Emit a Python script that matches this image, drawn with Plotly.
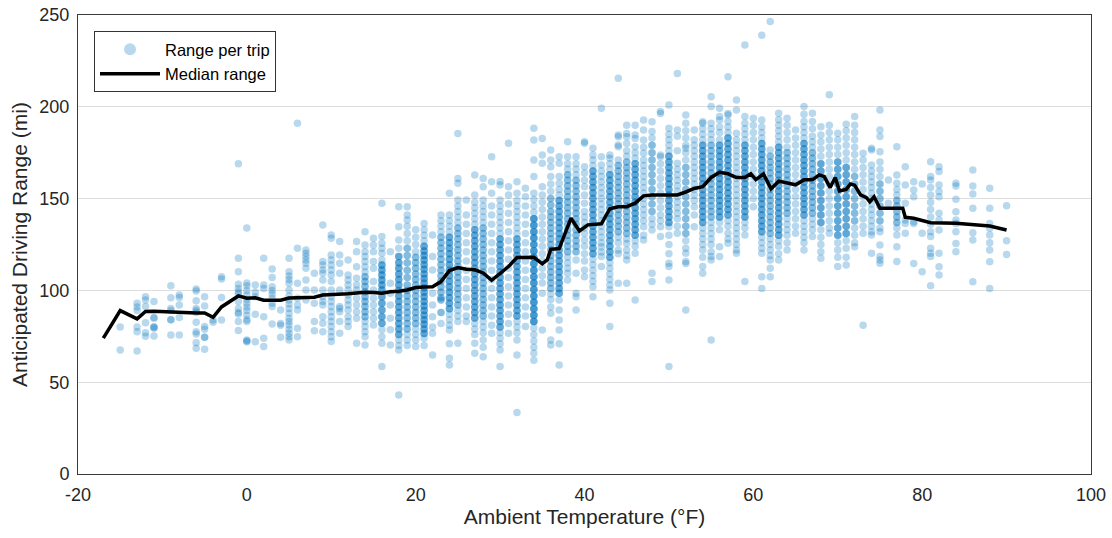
import plotly.graph_objects as go

# ---------------- data ----------------
cold_temps = [-15, -13, -12, -11, -9, -8, -6, -5, -4, -3, -1, 0, 1, 2, 3, 4]
cold_ranges = [
    [80, 67.5],
    [93, 91, 89, 80, 77.5, 67],
    [96.5, 94.8, 91.2, 82.4, 77, 75],
    [94, 85.3, 84.8, 80, 80, 79.4, 75.2],
    [102.6, 96, 90.2, 89, 84, 84, 75.7],
    [97.5, 96.2, 92.1, 85.3, 75.7],
    [100.8, 99.7, 94.3, 90.2, 89, 87.9, 82.6, 77.5, 76.3, 71.5, 68.5],
    [96.6, 91.5, 80.3, 78.8, 74.5, 74.5, 67.9],
    [83.9, 82.6],
    [107.5, 106.2, 96.2, 83.9],
    [169, 117.5, 110.2, 103.3, 101, 99.3, 98, 93.9, 90.2, 88, 87.2, 83, 78.1],
    [134, 104, 102.5, 100, 97.5, 95, 93, 91, 89, 86.5, 84, 83, 73, 72.5, 72],
    [103, 99, 96.5, 87, 72],
    [117.5, 103, 101, 85.7, 74, 69.5],
    [111.7, 107, 102, 100, 98, 95.7, 93, 91.2, 81.7],
    [89.3, 82, 81, 74.5],
]

mild_temps = [5, 6, 7, 8, 9, 10, 11, 12, 13, 14, 15, 16, 17, 18, 19]
mild_ranges = [
    [117.5, 110.2, 107.9, 106, 103.9, 100.2, 97, 94.8, 92.6, 90.2, 87.5, 84.8, 83, 81.2, 78.8, 76.6, 74.8, 73],
    [191, 123, 103.9, 95.7, 92.1, 89.3, 79.4, 74.8],
    [122, 120.2, 118.4, 116.6, 114.8, 112, 105.7, 100.2, 94.8],
    [109.3, 100.2, 93, 83, 78],
    [135.6, 115.7, 113.9, 111.1, 109.3, 105.7, 100.2, 96.6, 93.9, 92.1, 85.7, 82.1, 77.5],
    [130.2, 128.4, 119.3, 116.6, 113.9, 111.1, 108.4, 104.8, 100.2, 96.6, 93.9, 91.2, 88.4, 85.7, 83, 80.3, 77.5, 74.8, 72.1],
    [126.6, 119.3, 114.8, 109.3, 100.2, 91.2, 90.2, 88.4, 83, 76.6],
    [116.6, 108.4, 105.7, 103, 100.2, 97.5, 94.8, 92.1, 89.3, 85.7, 83, 80.3],
    [126.6, 121.1, 112.9, 106.6, 103, 100.2, 95.7, 92.1, 88.4, 84.8, 71.2],
    [132, 124.7, 121.1, 118.4, 115.7, 112.9, 110.2, 107.5, 104.8, 102.1, 99.3, 96.6, 93.9, 91.2, 88.4, 85.7, 83, 80.3, 77.5, 74.8, 70.3],
    [128.4, 124.7, 121.1, 115.7, 112, 104.8, 100.2, 95.7, 92.1, 88.4, 84.8, 81.2],
    [147.4, 129.3, 125.7, 122.9, 120.2, 116.6, 113.9, 111.1, 108.4, 105.7, 103, 100.2, 96.6, 93, 89.3, 85.7, 82.1, 78.5, 74.8, 71.2, 58.5],
    [121.1, 103.9, 98.4, 92.1, 84.8, 78.5, 70.3],
    [145.6, 134.7, 127.5, 123, 118.4, 115, 112, 109, 106, 103, 100, 97, 94, 91, 88, 85, 82, 79, 76, 73, 70, 67.5, 43],
    [145.6, 141, 138.4, 135, 131, 127, 123, 119, 115, 111, 107, 103, 100, 97, 94, 91, 88, 85, 82, 79, 76, 73, 70],
]

transition_temps = [20, 21, 22, 23, 24, 25, 26, 27, 28, 29, 30, 31, 32, 33, 34, 35, 36, 37, 38, 39]
transition_ranges = [
    [133, 129, 125, 121, 118, 115, 112, 109, 106, 103, 100, 97, 94, 91, 88, 85, 82, 79, 76, 73, 69.5],
    [136.5, 133, 130, 127, 124, 121.5, 119, 116.5, 114, 111.5, 109, 106.5, 104, 101.5, 99, 96.5, 94, 91.5, 89, 86.5, 84, 81.5, 79, 76.5, 74, 70],
    [130.2, 118.4, 111.1, 98.4, 92, 85.7, 80, 76.6, 64.8],
    [141, 138, 135, 132, 129, 126, 123, 120, 117, 114, 111, 108, 105, 102, 99, 96, 94.8, 88, 82],
    [152.9, 141, 138, 135, 132, 129, 126, 123, 120, 117, 114, 111, 108, 105, 102, 99, 96, 93, 90, 87, 84, 81, 78.4, 71, 63, 59.4],
    [185.5, 161, 158.3, 149.2, 146, 143, 140, 137, 134, 131, 128, 125, 122, 119, 116, 113, 110, 107, 104, 101, 98, 95, 92, 89, 86, 83, 71.2],
    [149.2, 141, 136, 131, 126, 121, 116, 111, 106, 101, 96, 91, 86, 83],
    [162.9, 152, 148, 145, 142, 139, 136, 133, 130, 127, 124, 121, 118, 115, 112, 109, 106, 103, 100, 97, 94, 91, 88, 85, 82, 79, 76, 71.2, 65.7],
    [161, 156.5, 149.2, 146, 143, 140, 137, 134, 131, 128, 125, 122, 119, 116, 113, 110, 107, 104, 101, 98, 95, 92, 89, 86, 83, 80, 77, 73, 69, 63.9],
    [172.8, 159.2, 152.9, 146, 141, 136, 131, 126, 121, 116, 111, 106, 101, 96, 91, 86, 81, 76.6],
    [159.3, 157.4, 149.3, 146, 143, 140, 137, 134, 131, 128, 125, 122, 119, 116, 113, 110, 107, 104, 101, 98, 95, 92, 89, 86, 83, 80, 77, 74, 71, 67.5, 58.5],
    [180.1, 156.5, 152, 147, 142, 137, 132, 127, 122, 117, 112, 107, 102, 97, 92, 87, 82, 76.6],
    [159.2, 152.9, 149, 146, 143, 140, 137, 134, 131, 128, 125, 122, 119, 116, 113, 110, 107, 104, 101, 98, 95, 92, 89, 86, 83, 80, 77, 73, 64.8, 33.5],
    [155.6, 151, 146, 141, 136, 131, 126, 121, 116, 111, 106, 101, 96, 91, 86, 80.3],
    [188.3, 181.9, 171, 162, 152.9, 149.5, 146, 142.5, 139, 135.5, 132, 128.5, 125, 121.5, 118, 114.5, 111, 107.5, 104, 100.5, 97, 93.5, 90, 86.5, 83, 79.5, 76, 72.5, 69, 65.7, 62],
    [182.8, 173.7, 169.2, 156.5, 152, 148, 144, 140, 136, 132, 128, 124, 120, 116, 112, 108, 104, 98.4, 78.4],
    [176.5, 171, 167.4, 162, 158, 154, 150, 146.5, 143, 140, 137, 134, 131, 128, 125, 122, 119, 116, 113, 110, 107, 104, 101, 98, 95, 91, 87.5, 73, 70.3],
    [172.8, 169.2, 162, 158.3, 155, 152, 149, 146, 143, 140, 137, 134, 131, 128, 125, 122, 119, 116, 113, 110, 107, 104, 101, 98.4, 94.8, 89.3, 83.9, 78.4, 71, 59.4],
    [181, 172.8, 169, 166, 163, 160, 157, 154, 151, 148, 145, 142, 139, 136, 133, 130, 127, 124, 121, 118, 115, 112, 109.3, 105.7],
    [172.8, 169, 166, 163, 160, 157, 154, 151, 148, 145, 142, 139, 136, 133, 130, 127, 124, 121, 116.6, 109.3, 98.4, 96.6, 89.3],
]

warm_temps = [40, 41, 42, 43, 44, 45, 46, 47, 48, 49, 50, 51, 52, 53, 54, 55, 56, 57, 58, 59]
warm_ranges = [
    [181, 180.1, 167.4, 164, 160, 156.5, 152, 147.4, 143, 140, 137, 134, 131, 127.5, 124, 120, 116, 111.1, 107.5],
    [177.4, 173.7, 171, 168, 165, 162, 159, 156, 153, 150, 147, 144, 141, 138, 135, 132, 129, 126, 123, 120, 117, 114, 111, 108, 105, 102, 96.6],
    [199.2, 172.8, 168.3, 165, 162, 159, 156, 153, 150, 147, 144, 141, 138, 135, 132, 129, 126, 123.8, 120.9, 118.4, 113],
    [173.7, 172, 169, 166, 163, 160, 157, 154, 151, 148, 145, 142, 139, 136, 133, 130, 127, 124, 121, 118, 115, 112, 109, 106, 103, 100.2, 93, 80.3],
    [215.5, 184.6, 183.7, 179.2, 178.3, 171, 168, 165, 162, 159, 156, 153, 150, 147, 144, 141, 138, 135, 132, 129, 126, 122, 120, 103.9],
    [190, 185.5, 183.7, 180, 176, 173, 170, 167, 164, 161, 158, 155, 152, 149, 146, 143, 140, 137, 134, 131, 128, 125.6, 122, 119, 116.6, 103.9],
    [190, 184.6, 182.8, 178.3, 175, 172, 169, 166, 163, 160, 157, 154, 151, 148, 145, 142, 139, 136, 133, 130, 127, 124, 120.2, 94.8],
    [192.8, 187.4, 181.9, 178, 174.7, 171, 168, 165, 162, 159, 156, 153, 150, 147, 144, 141, 138, 134.7, 130, 127.5],
    [191.9, 186.5, 183, 179, 175, 171, 167, 163, 159, 155, 151, 147, 143, 139, 136, 132.9, 109.3, 104.8],
    [197.4, 196.4, 173.7, 172.8, 169, 165, 161, 157, 153, 149, 145, 141, 138, 134.7, 129.3],
    [201, 188.3, 185, 182, 179, 176, 173, 170, 167, 164, 161, 158, 155, 152, 149, 146, 143, 140, 137, 134.7, 130, 125, 120, 114.8, 113, 105.7, 58.5],
    [218.2, 187.4, 184, 176, 169.2, 166, 163, 160, 157, 154, 151, 148, 145, 142, 139, 135, 131.1],
    [195.5, 191, 187, 183, 179, 177.4, 175, 171, 167, 163, 159, 155, 151, 147, 143, 139, 135, 131, 127, 123, 120.2, 115.7, 114.7, 89.3],
    [187.4, 182, 179, 176, 173, 170, 167, 164, 161, 158, 155, 152, 149, 145.6, 141, 134.7],
    [191.9, 191, 188, 185, 182, 179, 176, 173, 170, 167, 164, 161, 158, 155, 152, 149, 146, 143, 140, 137, 134, 131, 128, 125, 122, 118, 113, 109.3],
    [205.5, 200.1, 191, 188, 185, 182, 179, 176, 173, 170, 167, 164, 161, 158, 155, 152, 149, 146, 143, 140, 137, 134, 131, 128, 125, 121, 118.4, 116.6, 73],
    [199.2, 194.7, 192.8, 189, 186, 182, 179, 176, 173, 170, 167, 164, 161, 158, 155, 152, 149, 146, 143, 140, 137, 133, 123.8, 118.4],
    [216.4, 196.4, 195.5, 192, 189, 186, 183, 180, 177, 174, 171, 168, 165, 162, 159, 156, 153, 150, 147, 144, 141, 138, 135, 131.1, 128, 125.7],
    [203.7, 198.3, 185.6, 182, 179, 176, 173, 170, 167, 164, 161, 158, 155, 152, 149, 146, 143, 140, 137, 134, 131, 128, 125, 122, 120.2],
    [233.7, 194.7, 191, 188, 185, 182, 179, 176, 173, 170, 167, 164, 161, 158, 155, 152, 149, 146, 143, 140, 137, 134, 130.2, 104.8],
]

hot_temps = [60, 61, 62, 63, 64, 65, 66, 67, 68, 69, 70, 71, 72, 73, 74, 75, 76, 77, 78, 79, 80, 81, 82, 84, 86, 88, 90]
hot_ranges = [
    [193.7, 190, 186, 182, 178, 174, 170, 166, 162, 158, 154, 150, 145.6],
    [239, 192.8, 189, 186, 183, 180, 177, 174, 171, 168, 165, 162, 159, 156, 153, 150, 147, 144, 141, 138, 135, 132, 129, 126, 123, 120.2, 107.5, 101],
    [246.4, 176.5, 173, 170, 167, 164, 161, 158, 155, 152, 149, 146, 143, 140, 137, 134, 131, 128, 125, 122, 119, 116.6, 112, 107.5],
    [196.5, 193, 190, 187, 184, 181, 178, 175, 172, 169, 166, 163, 160, 157, 154, 151, 148, 145, 142, 139, 136, 133, 130, 127, 124, 120, 116.6],
    [193.7, 190, 186, 182, 178, 175, 172, 169, 166, 163, 160, 157, 154, 151, 148, 145, 142, 139, 136, 133, 130, 126, 122],
    [187.4, 183, 179, 175, 171, 167, 163, 159, 155, 151, 147, 143, 139, 135, 131.1],
    [200.1, 196, 192, 189, 186, 183, 180, 177, 174, 171, 168, 165, 162, 159, 156, 153, 150, 147, 144, 141, 138, 135, 132, 129, 126, 122],
    [196.5, 192, 188, 184, 181, 178, 175, 172, 169, 166, 163, 160, 157, 154, 151, 148, 145, 142, 139, 136, 133, 129.3],
    [189.2, 184.7, 181, 177, 173, 169, 165, 161, 157, 153, 149, 145, 141, 137, 133, 129, 125, 121, 117.5],
    [206.5, 190, 186, 182, 178, 174, 170, 166, 162, 158, 154, 150, 146, 142, 138, 134, 131.1],
    [185.6, 182, 178, 174, 170, 166, 162, 158, 154, 150, 146, 142, 138, 134, 130, 126, 122, 118, 113],
    [190.5, 187, 183, 179, 175, 171, 167, 163, 159, 155, 151, 147, 143, 139, 135, 131, 127, 123, 118, 113.9],
    [194.7, 190, 186, 182, 178, 174, 170, 166, 162, 158, 154, 150, 146, 142, 138, 134, 130, 126, 123.8],
    [174.7, 171, 167, 163, 159, 155, 151, 147, 143, 139, 135, 131.1, 81],
    [177.4, 176.5, 168.3, 165, 162, 159, 156, 153, 150, 147, 144, 141, 138, 135, 132, 130.2, 120.2],
    [198.3, 187.4, 183.8, 175.5, 170, 166, 162, 158, 154, 150, 146, 142, 138, 134, 132, 124.7, 118.4, 116.6, 114.8],
    [160.1, 147.4],
    [178.3, 162.8, 158.3, 155, 152, 149, 146, 143, 140, 137, 134, 130.2, 123.8, 115.7],
    [167.4, 157.4, 147.4, 138.3, 136.5, 131.1],
    [159.2, 154.7, 151, 137.4, 136.5, 114.7],
    [157.9, 131.1, 110.2],
    [170.1, 162, 160.1, 156, 152, 148, 144, 140, 136, 132, 129.3, 122.9, 120.2, 118.4, 102.6],
    [167.4, 164.7, 157.4, 153.8, 151, 142, 138.3, 132.9, 120.2, 112.9, 108.4],
    [158.3, 156.9, 149.6, 142.9, 138.3, 136.5, 132, 125.6, 121.1],
    [165.6, 156.9, 152.5, 144.7, 131.4, 127.4, 104.7],
    [155.6, 144.7, 136.5, 133.8, 130.2, 126, 122, 115.6, 101.1],
    [146.1, 127.1, 119.6],
]

# Dense cores: in these columns many trips share the readings inside [low, high];
# "depth" = extra trips stacked at each reading (read from the darkness of the core).
dense_temps = [14, 16, 18, 19, 20, 21, 23, 24, 25, 27, 28, 30, 32, 34, 36, 37, 38, 39, 41, 43,
               44, 45, 46, 48, 50, 52, 54, 55, 56, 57, 59, 61, 62, 63, 64, 66, 67, 68, 70, 71,
               72, 75, 77]
dense_low = [85, 80, 75, 78, 80, 75, 88, 88, 90, 85, 85, 80, 85, 80, 100, 95, 120, 120, 120, 118,
             130, 130, 130, 140, 135, 130, 135, 140, 140, 140, 140, 130, 130, 130, 140, 140, 140, 135, 130, 130,
             135, 135, 135]
dense_high = [110, 115, 120, 125, 120, 125, 130, 130, 135, 135, 135, 130, 130, 140, 150, 150, 165, 160, 165, 165,
              170, 170, 170, 180, 175, 170, 180, 180, 180, 185, 180, 180, 175, 180, 175, 180, 175, 170, 170, 170,
              165, 160, 150]
dense_depth = [1, 2, 2, 1, 1, 2, 1, 2, 1, 2, 1, 2, 2, 3, 1, 2, 1, 1, 2, 2,
               1, 1, 2, 1, 2, 1, 2, 1, 2, 2, 2, 2, 1, 2, 1, 2, 1, 2, 2, 2,
               1, 1, 1]

median_temps = [-17, -15, -13, -12, -11, -10, -9, -8, -7, -6, -5, -4, -3, -2, -1, 0, 1, 2, 3, 4,
                5, 6, 7, 8, 9, 10, 11, 12, 13, 14, 15, 16, 17, 18, 19, 20, 21, 22, 23, 24,
                25, 26, 27, 28, 29, 30, 31, 32, 33, 34, 35, 35.6, 36, 37, 37.7, 38.4, 39.4, 40.4, 42, 43,
                44, 45, 46, 47, 48, 49, 50, 51, 52, 53, 54, 55, 56, 57, 58, 59, 59.7, 60.3, 61.2, 62.1,
                63, 64, 65, 66, 67, 67.8, 68.4, 69.1, 69.7, 70.2, 71, 71.5, 72, 72.7, 73.4, 73.8, 74.3, 75, 77.7, 78,
                79, 81, 84, 88, 90]
median_ranges = [74, 89, 84.5, 88.5, 88.7, 88.5, 88, 87.7, 87.7, 87.7, 87.7, 85.3, 91, 94, 97, 95.7, 96, 94.7, 94.7, 94.7,
                 95.8, 96, 96.2, 96.3, 97.5, 97.6, 97.8, 98.2, 98.6, 99, 98.9, 98.4, 99.3, 99.5, 100.2, 101.6, 101.8, 102, 104.8, 110.8,
                 112.4, 111.5, 111.2, 109.5, 105.5, 109.3, 113, 117.9, 118, 118, 114.5, 116.7, 122.4, 122.8, 131, 139.3, 132.4, 135.7, 136.3, 144.5,
                 145.5, 145.6, 147.5, 151.5, 152, 152, 152, 152, 153.6, 155.5, 156.5, 161.5, 164.3, 163.5, 161.5, 161.5, 163.5, 160.3, 163.4, 155.3,
                 159.5, 158.5, 157.5, 160.2, 160.2, 162.9, 162, 156, 161.5, 154.2, 155, 158, 157.3, 152, 150.5, 148.3, 151, 144.7, 144.7, 139.8,
                 139.3, 136.9, 136.6, 135.1, 132.9]

x_tick_values = [-20, 0, 20, 40, 60, 80, 100]
y_tick_values = [0, 50, 100, 150, 200, 250]

# ---------------- build flat point lists ----------------
column_values = {}
for temps, ranges in [(cold_temps, cold_ranges), (mild_temps, mild_ranges),
                      (transition_temps, transition_ranges), (warm_temps, warm_ranges),
                      (hot_temps, hot_ranges)]:
    for t, vals in zip(temps, ranges):
        column_values[t] = list(vals)

trip_x, trip_y = [], []
for t, vals in column_values.items():
    for v in vals:
        trip_x.append(t)
        trip_y.append(v)
for t, lo, hi, d in zip(dense_temps, dense_low, dense_high, dense_depth):
    for _ in range(d):
        for v in column_values[t]:
            if lo <= v <= hi:
                trip_x.append(t)
                trip_y.append(v)

BLUE_A = "rgba(0,114,189,0.28)"
FONT = "Liberation Sans, Arial, Helvetica, sans-serif"
TXT = "#262626"

fig = go.Figure()
fig.add_trace(go.Scatter(
    x=trip_x, y=trip_y, mode="markers", showlegend=False,
    marker=dict(size=7.5, color=BLUE_A, line=dict(width=0)),
    hoverinfo="skip",
))
# legend-only entry with a larger symbol
fig.add_trace(go.Scatter(
    x=[None], y=[None], mode="markers", name="Range per trip",
    marker=dict(size=12, color=BLUE_A, line=dict(width=0)),
))
fig.add_trace(go.Scatter(
    x=median_temps, y=median_ranges, mode="lines", name="Median range",
    line=dict(color="black", width=3.5),
))

fig.update_layout(
    width=1112, height=538, autosize=False,
    margin=dict(l=78, r=21, t=15, b=64, autoexpand=False),
    paper_bgcolor="white", plot_bgcolor="white",
    font=dict(family=FONT, size=18, color=TXT),
    showlegend=True,
    legend=dict(
        x=0.0158, y=0.965, xanchor="left", yanchor="top",
        bgcolor="white", bordercolor="#333333", borderwidth=1,
        font=dict(family=FONT, size=16.5, color="black"),
        itemwidth=60, tracegroupgap=0,
    ),
)
fig.update_xaxes(
    range=[-20, 100], tickvals=x_tick_values, ticktext=[str(v) for v in x_tick_values],
    showgrid=False, zeroline=False, automargin=False,
    showline=True, linecolor="#3a3a3a", linewidth=1, mirror=True,
    ticks="", ticklabelstandoff=4, tickfont=dict(size=18, color=TXT),
    title=dict(text="Ambient Temperature (°F)", font=dict(size=21, color=TXT), standoff=4),
)
fig.update_yaxes(
    range=[0, 250], tickvals=y_tick_values, ticktext=[str(v) for v in y_tick_values],
    showgrid=True, gridcolor="#dedede", gridwidth=1, zeroline=False, automargin=False,
    showline=True, linecolor="#3a3a3a", linewidth=1, mirror=True,
    ticks="", ticklabelstandoff=4, tickfont=dict(size=18, color=TXT),
    title=dict(text="Anticipated Driving Range (mi)", font=dict(size=21, color=TXT), standoff=6),
)

fig.write_html(
    "out.html",
    config={"displayModeBar": False},
    post_script="document.body.style.margin='0';document.body.style.overflow='hidden';",
)
